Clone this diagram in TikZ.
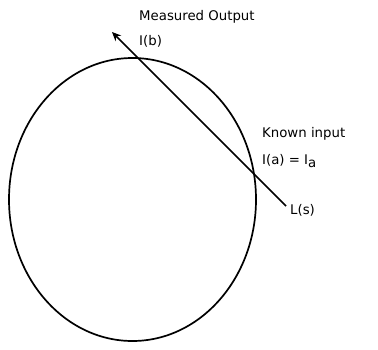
\documentclass[tikz,border=0pt]{standalone}
\usepackage{fontspec}
\setmainfont{DejaVu Sans}
\usetikzlibrary{shapes.geometric,arrows.meta}
\begin{document}
\begin{tikzpicture}[x=1pt,y=-1pt,
  lbl/.style={anchor=west,inner sep=0pt,font=\fontsize{13.3}{15}\selectfont}]
\useasboundingbox (0,0) rectangle (378,349);
\node (E) [draw,ellipse,line width=1.7pt,minimum width=247pt,minimum height=283pt,inner sep=0pt] at (132.5,199.5) {};
\node (mo) [lbl] at (139,17) {Measured Output};
\node (ib) [lbl] at (139,41) {I(b)};
\node (ki) [lbl] at (262,134) {Known input};
\node (ia) [lbl] at (262,161) {I(a) = I$_{\mbox{\fontsize{13.3}{15}\selectfont a}}$};
\node (ls) [lbl] at (290,210) {L(s)};
\coordinate (tip) at (112,32);
\coordinate (st) at (286,206);
\draw[line width=1.7pt,-{Stealth[length=9pt,width=8pt]}] (st) -- (tip);
\end{tikzpicture}
\end{document}
